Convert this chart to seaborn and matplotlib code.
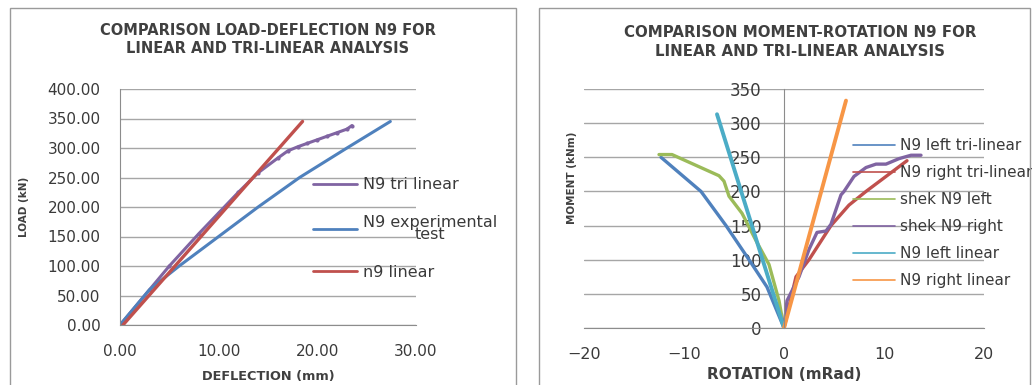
import pandas as pd
import numpy as np
import seaborn as sns
import matplotlib.pyplot as plt
from matplotlib.patches import Rectangle

# load-deflection data (left chart)
exp_defl = [0, 3, 6, 10, 14, 18.2, 23, 27.4]
exp_load = [0, 60, 100, 150, 200, 250, 300, 345]
lin_defl = [0.3, 18.5]
lin_load = [0, 345]
tri_defl = [0, 3, 5, 8, 10, 12, 14, 16, 17, 18, 19, 20, 21, 22, 23, 23.5]
tri_load = [0, 60, 100, 155, 190, 225, 258, 283, 295, 302, 308, 314, 320, 326, 332, 338]

# moment-rotation data (right chart)
left_tri_rot = [0, -1.7, -3.5, -5.8, -8.3, -12.3]
left_tri_mom = [0, 60, 100, 150, 200, 250]
right_tri_rot = [0, 1.2, 2.5, 4.7, 6.5, 8.2, 12.3]
right_tri_mom = [0, 75, 100, 150, 180, 200, 245]
shek_left_rot = [0, -0.5, -1.5, -2.8, -4.2, -5.5, -6.0, -6.5, -11.2, -12.5]
shek_left_mom = [0, 40, 93, 128, 168, 193, 215, 223, 254, 254]
shek_right_rot = [0, 0.3, 1.5, 2.5, 3.3, 4.2, 4.7, 5.7, 6.0, 7.0, 8.2, 9.2, 10.2, 11.5, 12.7, 13.7]
shek_right_mom = [0, 40, 75, 115, 140, 142, 152, 195, 200, 222, 235, 240, 240, 248, 253, 253]
left_lin_rot = [0, -6.7]
left_lin_mom = [0, 313]
right_lin_rot = [0, 6.2]
right_lin_mom = [0, 333]

blue = '#4F81BD'
red = '#C0504D'
green = '#9BBB59'
purple = '#8064A2'
aqua = '#4BACC6'
orange = '#F79646'

sns.set_style('white')
plt.rcParams['font.family'] = ['DejaVu Sans']

fig = plt.figure(figsize=(10.32, 3.85), dpi=100)

# panel borders
fig.patches.append(Rectangle((10 / 1032, -0.05), 506 / 1032, 1.05 - 8 / 385, transform=fig.transFigure,
                             fill=False, edgecolor='#9a9a9a', linewidth=1.0))
fig.patches.append(Rectangle((539 / 1032, -0.05), 491 / 1032, 1.05 - 8 / 385, transform=fig.transFigure,
                             fill=False, edgecolor='#9a9a9a', linewidth=1.0))

tick_col = '#3a3a3a'
lab_col = '#404040'

# ---- left chart
ax1 = fig.add_axes([120 / 1032, 60 / 385, 296 / 1032, 236 / 385])
sns.lineplot(x=tri_defl, y=tri_load, ax=ax1, color=purple, linewidth=2.2, sort=False,
             marker='o', markersize=3, markeredgewidth=0, label='N9 tri linear')
sns.lineplot(x=exp_defl, y=exp_load, ax=ax1, color=blue, linewidth=2.2, sort=False,
             label='N9 experimental\ntest')
sns.lineplot(x=lin_defl, y=lin_load, ax=ax1, color=red, linewidth=2.4, sort=False,
             label='n9 linear')
ax1.set_xlim(0, 30)
ax1.set_ylim(0, 400)
ax1.set_xticks([0, 10, 20, 30])
ax1.set_yticks(np.arange(0, 401, 50))
ax1.xaxis.set_major_formatter(lambda v, p: f'{v:.2f}')
ax1.yaxis.set_major_formatter(lambda v, p: f'{v:.2f}')
ax1.grid(axis='y', color='#a6a6a6', linewidth=1.0)
for s in ['top', 'right']:
    ax1.spines[s].set_visible(False)
for s in ['left', 'bottom']:
    ax1.spines[s].set_color('#8c8c8c')
ax1.tick_params(axis='x', direction='inout', length=5, color='#8c8c8c', labelsize=11,
                labelcolor=tick_col, pad=11)
ax1.tick_params(axis='y', length=0, labelsize=11, labelcolor=tick_col, pad=14)
ax1.set_xlabel('DEFLECTION (mm)', fontsize=9.3, fontweight='bold', color=lab_col, labelpad=8)
ax1.set_ylabel('LOAD (kN)', fontsize=7.5, fontweight='bold', color=lab_col)
ax1.yaxis.set_label_coords(-91 / 296, 0.5)
ax1.set_title('COMPARISON LOAD-DEFLECTION N9 FOR\nLINEAR AND TRI-LINEAR ANALYSIS',
              pad=26, linespacing=1.25, fontweight='bold', fontsize=10.5, color=lab_col)
leg1 = ax1.legend(loc='upper left', bbox_to_anchor=(307 / 1032, 214 / 385),
                  bbox_transform=fig.transFigure, frameon=False, fontsize=11.5,
                  handlelength=2.75, handletextpad=0.35, labelspacing=1.4, borderaxespad=0)
for t in leg1.get_texts():
    t.set_multialignment('center')
    t.set_linespacing(0.8)
    t.set_color('#3a3a3a')
for line in leg1.get_lines():
    line.set_linewidth(2)
    line.set_marker('')

# ---- right chart
ax2 = fig.add_axes([584 / 1032, 57 / 385, 400 / 1032, 239 / 385])
sns.lineplot(x=left_tri_rot, y=left_tri_mom, ax=ax2, color=blue, linewidth=2.4, sort=False,
             label='N9 left tri-linear')
sns.lineplot(x=right_tri_rot, y=right_tri_mom, ax=ax2, color=red, linewidth=2.4, sort=False,
             label='N9 right tri-linear')
sns.lineplot(x=shek_left_rot, y=shek_left_mom, ax=ax2, color=green, linewidth=2.4, sort=False,
             label='shek N9 left')
sns.lineplot(x=shek_right_rot, y=shek_right_mom, ax=ax2, color=purple, linewidth=2.4, sort=False,
             label='shek N9 right')
sns.lineplot(x=left_lin_rot, y=left_lin_mom, ax=ax2, color=aqua, linewidth=2.8, sort=False,
             label='N9 left linear')
sns.lineplot(x=right_lin_rot, y=right_lin_mom, ax=ax2, color=orange, linewidth=2.8, sort=False,
             label='N9 right linear')
ax2.set_xlim(-20, 20)
ax2.set_ylim(0, 350)
ax2.set_xticks([-20, -10, 0, 10, 20])
ax2.set_yticks(np.arange(0, 351, 50))
ax2.grid(axis='y', color='#a6a6a6', linewidth=1.0)
ax2.spines['left'].set_position(('data', 0))
ax2.spines['left'].set_color('#8c8c8c')
ax2.spines['bottom'].set_color('#8c8c8c')
for s in ['top', 'right']:
    ax2.spines[s].set_visible(False)
ax2.tick_params(axis='x', direction='inout', length=5, color='#8c8c8c', labelsize=11.5,
                labelcolor=tick_col, pad=11)
ax2.tick_params(axis='y', length=0, labelsize=12, labelcolor=tick_col, pad=16)
ax2.set_xlabel('ROTATION (mRad)', fontsize=11, fontweight='bold', color=lab_col, labelpad=4)
ax2.set_ylabel('MOMENT (kNm)', fontsize=7.5, fontweight='bold', color=lab_col)
ax2.yaxis.set_label_coords(-7 / 400, 0.63)
ax2.set_title('COMPARISON MOMENT-ROTATION N9 FOR\nLINEAR AND TRI-LINEAR ANALYSIS',
              pad=24, linespacing=1.3, x=0.54, fontweight='bold', fontsize=10.8, color=lab_col)
leg2 = ax2.legend(loc='upper left', bbox_to_anchor=(847 / 1032, 253 / 385),
                  bbox_transform=fig.transFigure, frameon=False, fontsize=11,
                  handlelength=2.75, handletextpad=0.33, labelspacing=0.79, borderaxespad=0)
for t in leg2.get_texts():
    t.set_color('#3a3a3a')
for line in leg2.get_lines():
    line.set_linewidth(1.2)

fig.savefig('out.png', dpi=100)
